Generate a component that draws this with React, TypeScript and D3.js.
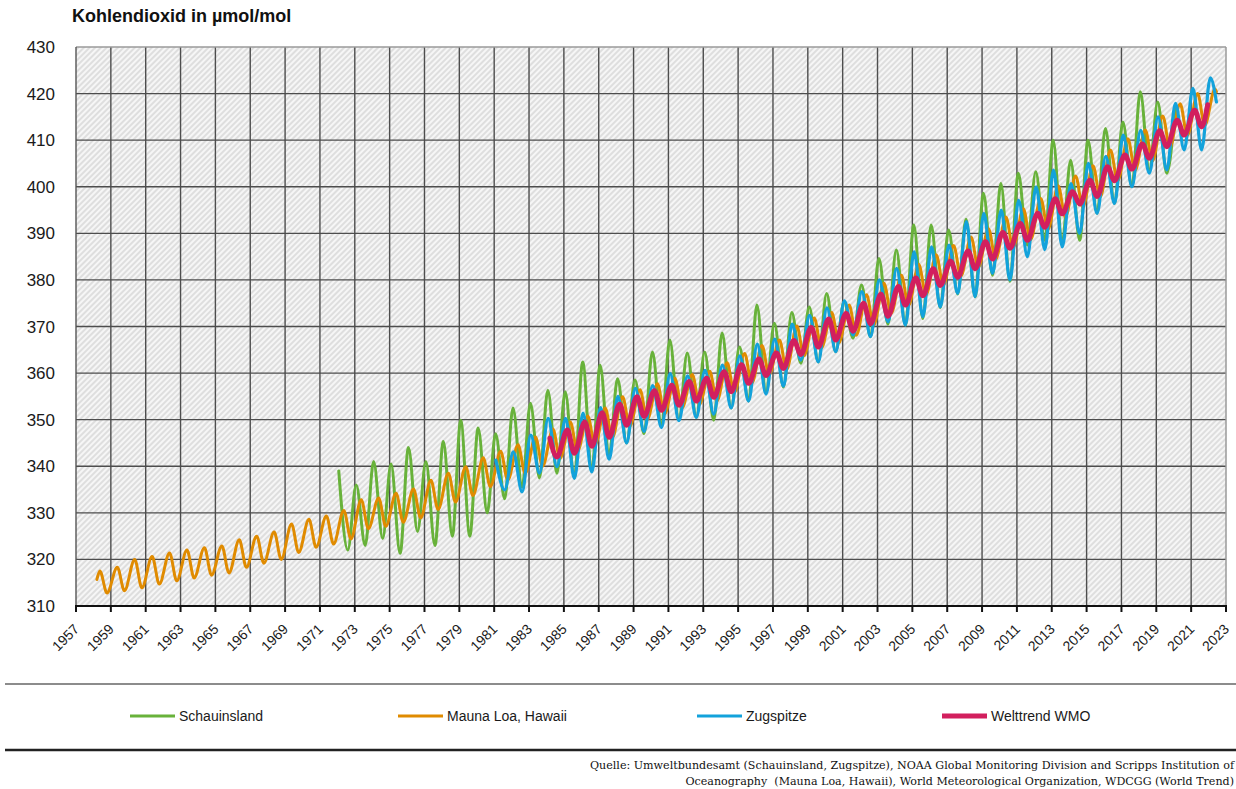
import React, { useEffect, useRef } from 'react';
import * as d3 from 'd3';

const W = 1236;
const H = 789;

// Schauinsland: late-winter peak and summer low per year, 1972-2020
const schauinslandStart = 1972;
const schauinslandPeaks = [
  339.0, 336.0, 341.0, 340.5, 344.0, 341.0, 345.3, 349.9, 348.2, 347.0,
  352.5, 353.5, 356.3, 356.0, 362.4, 361.7, 358.8, 358.5, 364.5, 367.1,
  364.3, 364.5, 368.6, 365.6, 374.6, 370.7, 373.0, 374.2, 377.1, 375.3,
  378.9, 384.6, 386.4, 391.8, 391.8, 390.7, 393.0, 398.6, 400.7, 402.9,
  403.2, 410.0, 405.7, 410.0, 412.5, 413.9, 420.4, 418.2, 417.1,
];
const schauinslandTroughs = [
  322.0, 323.0, 324.5, 321.3, 326.0, 323.0, 325.0, 325.0, 330.0, 333.0,
  335.5, 337.5, 338.5, 337.5, 339.0, 342.4, 345.0, 347.0, 348.5, 350.0,
  350.5, 349.9, 352.5, 354.0, 356.0, 357.0, 362.1, 362.4, 364.6, 367.5,
  367.8, 370.5, 370.3, 371.7, 374.0, 377.0, 376.4, 381.0, 379.7, 387.5,
  388.5, 388.0, 388.5, 394.3, 396.4, 400.0, 403.6, 402.9,
];

// Mauna Loa: May peak and autumn low per year, 1958-2022
const maunaLoaStart = 1958;
const maunaLoaFirst: [number, number] = [1958.2, 315.7];
const maunaLoaPeaks = [
  317.5, 318.3, 320.0, 320.6, 321.4, 322.0, 322.5, 322.9, 324.2, 325.0,
  325.9, 327.6, 328.6, 329.3, 330.5, 332.8, 333.2, 334.2, 335.1, 337.0,
  338.5, 339.9, 341.8, 343.2, 344.6, 346.3, 348.0, 349.5, 350.8, 352.5,
  354.9, 356.4, 357.7, 358.9, 359.7, 360.4, 362.2, 364.2, 365.9, 367.1,
  370.1, 371.8, 373.0, 374.6, 376.8, 379.3, 381.0, 383.3, 385.4, 387.4,
  389.2, 391.0, 393.5, 395.3, 397.5, 400.2, 402.3, 404.5, 407.9, 410.3,
  412.2, 415.2, 417.8, 420.0, 421.0,
];
const maunaLoaTroughs = [
  312.8, 313.3, 313.9, 314.7, 315.4, 316.0, 316.6, 317.1, 318.3, 319.2,
  320.0, 321.5, 322.6, 323.3, 324.4, 326.6, 327.1, 328.0, 328.9, 330.7,
  332.3, 333.7, 335.6, 337.0, 338.4, 340.0, 341.7, 343.2, 344.5, 346.1,
  348.5, 350.0, 351.2, 352.5, 353.3, 354.0, 355.8, 357.8, 359.6, 360.7,
  363.7, 365.4, 366.5, 368.1, 370.3, 372.8, 374.5, 376.8, 378.9, 380.8,
  382.6, 384.4, 386.9, 388.6, 390.8, 393.5, 395.6, 397.8, 401.2, 403.5,
  405.5, 408.4, 411.0, 413.2,
];
const maunaLoaLast: [number, number] = [2022.45, 420.4];

// Zugspitze: 1981-2022
const zugspitzeStart = 1981;
const zugspitzePeaks = [
  341.3, 343.1, 346.7, 350.3, 350.3, 351.4, 352.6, 355.0, 356.7, 357.3,
  359.9, 359.4, 360.6, 361.7, 363.7, 366.2, 367.3, 370.5, 372.4, 374.0,
  375.5, 377.5, 380.0, 382.5, 386.0, 387.1, 387.5, 392.5, 394.3, 395.0,
  397.1, 400.0, 403.6, 400.7, 405.0, 406.5, 411.1, 412.1, 415.0, 417.9,
  421.1, 423.4,
];
const zugspitzeTroughs = [
  334.9, 334.5, 338.5, 339.9, 337.4, 338.8, 341.5, 345.0, 347.5, 348.3,
  349.8, 350.5, 351.2, 352.5, 354.0, 355.5, 357.2, 362.8, 362.4, 364.6,
  368.2, 367.8, 371.0, 370.3, 372.1, 374.2, 377.1, 376.4, 381.4, 380.0,
  385.0, 386.5, 387.1, 390.0, 394.3, 396.4, 400.0, 402.9, 403.6, 407.9,
  407.9,
];
const zugspitzeLast: [number, number] = [2022.45, 418.2];

// Welttrend WMO: 1984-2021
const wmoStart = 1984;
const wmoPeaks = [
  346.0, 347.8, 349.5, 351.5, 353.3, 354.9, 356.2, 357.4, 358.2, 358.9,
  360.3, 361.8, 363.0, 364.3, 367.0, 369.8, 371.6, 372.8, 375.0, 376.9,
  378.6, 380.4, 382.4, 384.0, 386.2, 388.2, 390.2, 392.1, 394.3, 397.4,
  398.9, 401.4, 404.3, 406.8, 409.2, 412.0, 414.3, 416.4,
];
const wmoTroughs = [
  342.0, 342.8, 344.3, 346.2, 348.8, 350.7, 352.0, 353.1, 354.0, 354.8,
  356.0, 357.8, 359.5, 361.0, 364.0, 365.6, 367.1, 369.0, 370.6, 372.2,
  374.6, 376.6, 378.8, 380.6, 382.4, 384.5, 386.8, 388.5, 391.3, 394.2,
  396.3, 397.9, 401.3, 403.8, 406.1, 408.6, 411.1, 412.9,
];
const wmoLast: [number, number] = [2021.95, 417.6];

const yTicks = [310, 320, 330, 340, 350, 360, 370, 380, 390, 400, 410, 420, 430];
const xTicks = [
  1957, 1959, 1961, 1963, 1965, 1967, 1969, 1971, 1973, 1975, 1977, 1979,
  1981, 1983, 1985, 1987, 1989, 1991, 1993, 1995, 1997, 1999, 2001, 2003,
  2005, 2007, 2009, 2011, 2013, 2015, 2017, 2019, 2021, 2023,
];

const sansFont = "'Liberation Sans', Arial, sans-serif";
const serifFont = "'DejaVu Serif', 'Liberation Serif', serif";

type Pt = [number, number];

// peaks/troughs -> points at the month where each one occurs
function seasonal(start: number, peaks: number[], troughs: number[], peakAt: number, troughAt: number, first?: Pt, last?: Pt): Pt[] {
  const pts: Pt[] = [];
  if (first) pts.push(first);
  peaks.forEach((p, i) => {
    pts.push([start + i + peakAt, p]);
    if (i < troughs.length) pts.push([start + i + troughAt, troughs[i]]);
  });
  if (last) pts.push(last);
  return pts;
}

const series = [
  { name: 'Schauinsland', color: '#68b23a', width: 3, pts: seasonal(schauinslandStart, schauinslandPeaks, schauinslandTroughs, 0.08, 0.6) },
  { name: 'Mauna Loa, Hawaii', color: '#e08b00', width: 3, pts: seasonal(maunaLoaStart, maunaLoaPeaks, maunaLoaTroughs, 0.37, 0.78, maunaLoaFirst, maunaLoaLast) },
  { name: 'Zugspitze', color: '#13a2db', width: 3.2, pts: seasonal(zugspitzeStart, zugspitzePeaks, zugspitzeTroughs, 0.1, 0.6, undefined, zugspitzeLast) },
  { name: 'Welttrend WMO', color: '#d21f5e', width: 5, pts: seasonal(wmoStart, wmoPeaks, wmoTroughs, 0.2, 0.6, undefined, wmoLast) },
];

const legendX = [130, 398, 697, 942];

export default function App() {
  const svgRef = useRef<SVGSVGElement>(null);

  useEffect(() => {
    if (!svgRef.current) return;
    const svg = d3.select(svgRef.current);
    svg.selectAll('*').remove();

    const x = d3.scaleLinear().domain([1957, 2023]).range([76, 1226]);
    const y = d3.scaleLinear().domain([310, 430]).range([606, 47]);

    svg.append('rect').attr('width', W).attr('height', H).attr('fill', '#fff');

    // hatch background
    const pat = svg
      .append('defs')
      .append('pattern')
      .attr('id', 'hatch')
      .attr('width', 4)
      .attr('height', 4)
      .attr('patternUnits', 'userSpaceOnUse')
      .attr('patternTransform', 'rotate(45)');
    pat.append('rect').attr('width', 4).attr('height', 4).attr('fill', '#f6f6f6');
    pat.append('line').attr('x1', 1).attr('x2', 1).attr('y1', 0).attr('y2', 4).attr('stroke', '#d2d2d2').attr('stroke-width', 1.3);

    svg
      .append('rect')
      .attr('x', x(1957))
      .attr('y', y(430))
      .attr('width', x(2023) - x(1957))
      .attr('height', y(310) - y(430))
      .attr('fill', 'url(#hatch)');

    // grid
    const grid = svg.append('g');
    grid
      .selectAll('.hg')
      .data(yTicks.filter((v) => v > 310 && v < 430))
      .enter()
      .append('line')
      .attr('x1', x(1957))
      .attr('x2', x(2023))
      .attr('y1', (d) => y(d))
      .attr('y2', (d) => y(d))
      .attr('stroke', '#4d4d4d')
      .attr('stroke-width', 1.4);
    grid
      .selectAll('.vg')
      .data(xTicks.filter((v) => v > 1957 && v < 2023))
      .enter()
      .append('line')
      .attr('x1', (d) => x(d))
      .attr('x2', (d) => x(d))
      .attr('y1', y(430))
      .attr('y2', y(310))
      .attr('stroke', '#4d4d4d')
      .attr('stroke-width', 1.4);

    // frame
    grid.append('line').attr('x1', x(1957)).attr('x2', x(2023)).attr('y1', y(430)).attr('y2', y(430)).attr('stroke', '#9a9a9a').attr('stroke-width', 1.5);
    grid.append('line').attr('x1', x(2023)).attr('x2', x(2023)).attr('y1', y(430)).attr('y2', y(310)).attr('stroke', '#9a9a9a').attr('stroke-width', 1.5);
    grid.append('line').attr('x1', x(1957)).attr('x2', x(1957)).attr('y1', y(430)).attr('y2', y(310)).attr('stroke', '#555').attr('stroke-width', 1.4);

    // series
    const line = d3
      .line<Pt>()
      .x((d) => x(d[0]))
      .y((d) => y(d[1]))
      .curve(d3.curveMonotoneX);

    series.forEach((s) => {
      svg
        .append('path')
        .datum(s.pts)
        .attr('d', line)
        .attr('fill', 'none')
        .attr('stroke', s.color)
        .attr('stroke-width', s.width)
        .attr('stroke-linejoin', 'round')
        .attr('stroke-linecap', 'round');
    });

    // x axis
    const ax = svg.append('g');
    ax.append('line').attr('x1', x(1957) - 1).attr('x2', x(2023) + 1).attr('y1', y(310)).attr('y2', y(310)).attr('stroke', '#111').attr('stroke-width', 2.2);
    ax.selectAll('.tk')
      .data(xTicks)
      .enter()
      .append('line')
      .attr('x1', (d) => x(d))
      .attr('x2', (d) => x(d))
      .attr('y1', y(310))
      .attr('y2', y(310) + 6)
      .attr('stroke', '#111')
      .attr('stroke-width', 2);
    ax.selectAll('.tl')
      .data(xTicks)
      .enter()
      .append('text')
      .attr('transform', (d) => `translate(${x(d) + 4},${y(310) + 24}) rotate(-45)`)
      .attr('text-anchor', 'end')
      .style('font-family', sansFont)
      .style('font-size', '14px')
      .style('fill', '#1a1a1a')
      .text((d) => String(d));

    // y labels
    svg
      .append('g')
      .selectAll('text')
      .data(yTicks)
      .enter()
      .append('text')
      .attr('x', 55)
      .attr('y', (d) => y(d) + 6)
      .attr('text-anchor', 'end')
      .style('font-family', sansFont)
      .style('font-size', '17px')
      .style('fill', '#1a1a1a')
      .text((d) => String(d));

    // title
    svg
      .append('text')
      .attr('x', 72)
      .attr('y', 22)
      .style('font-family', sansFont)
      .style('font-size', '18px')
      .style('font-weight', 'bold')
      .style('fill', '#111')
      .text('Kohlendioxid in µmol/mol');

    // legend area
    svg.append('line').attr('x1', 5).attr('x2', W).attr('y1', 684).attr('y2', 684).attr('stroke', '#8c8c8c').attr('stroke-width', 2);
    svg.append('line').attr('x1', 5).attr('x2', W).attr('y1', 750).attr('y2', 750).attr('stroke', '#222').attr('stroke-width', 2.5);

    const lg = svg
      .append('g')
      .selectAll('g')
      .data(series)
      .enter()
      .append('g')
      .attr('transform', (_, i) => `translate(${legendX[i]},716)`);
    lg.append('line')
      .attr('x1', 0)
      .attr('x2', 45)
      .attr('stroke', (d) => d.color)
      .attr('stroke-width', (d) => (d.width > 4 ? 5 : 3.2));
    lg.append('text')
      .attr('x', 49)
      .attr('y', 5)
      .style('font-family', sansFont)
      .style('font-size', '14px')
      .style('fill', '#1a1a1a')
      .text((d) => d.name);

    // source, right-aligned near the edge
    const src = svg.append('g').style('font-family', serifFont).style('font-size', '11.1px').style('fill', '#111').attr('text-anchor', 'end');
    src.append('text').attr('x', 1234).attr('y', 769).text('Quelle: Umweltbundesamt (Schauinsland, Zugspitze), NOAA Global Monitoring Division and Scripps Institution of');
    src.append('text').attr('x', 1234).attr('y', 785).attr('xml:space', 'preserve').text('Oceanography  (Mauna Loa, Hawaii), World Meteorological Organization, WDCGG (World Trend)');
  }, []);

  return (
    <svg
      ref={svgRef}
      width={W}
      height={H}
      style={{ position: 'absolute', left: 0, top: 0, display: 'block' }}
    />
  );
}
